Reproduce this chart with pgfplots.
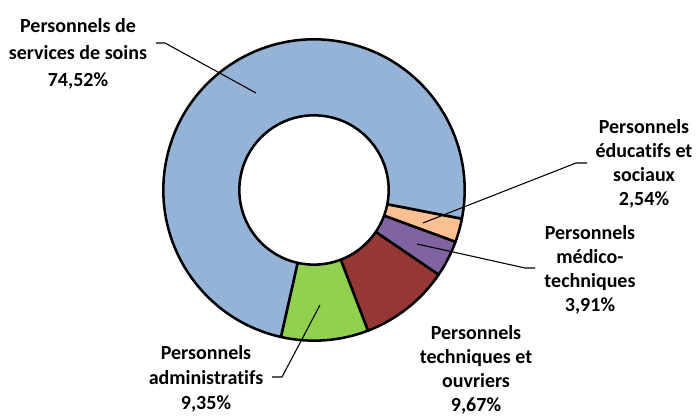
\documentclass[border=0pt]{standalone}
\usepackage{pgfplots}
\usepackage{pgfplotstable}
\pgfplotsset{compat=1.18}
\usepackage{fontspec}
\setmainfont{Carlito}[Ligatures={NoCommon,NoContextual}]
\definecolor{cBlue}{HTML}{95B3D7}
\definecolor{cPeach}{HTML}{FAC090}
\definecolor{cPurple}{HTML}{8064A2}
\definecolor{cRed}{HTML}{953735}
\definecolor{cGreen}{HTML}{92D050}
\pgfdeclareplotmark{nothing}{}
\newcommand\slicecolor[1]{\ifcase#1 cPeach\or cPurple\or cRed\or cGreen\or cBlue\fi}
\pgfplotstableread{
label pct ci
educ 2.54 0
medic 3.91 1
tech 9.67 2
admin 9.35 3
soins 74.52 4
}\donut
\pgfplotstablecreatecol[create col/expr accum={\pgfmathaccuma + \thisrow{pct}}{0}]{cum}\donut
\begin{document}
\begin{tikzpicture}
\begin{axis}[
  x=0.75pt, y=0.75pt, y dir=reverse,
  xmin=0, xmax=697, ymin=0, ymax=416,
  enlargelimits=false, scale only axis, hide axis, clip=false,
]
\addplot[scatter, only marks, mark=nothing,
  point meta=\thisrow{pct},
  visualization depends on={\thisrow{cum} \as \cum},
  visualization depends on={\thisrow{pct} \as \pct},
  visualization depends on={\thisrow{ci} \as \ci},
  scatter/@pre marker code/.code={%
    \pgfmathsetmacro\ea{-11-3.6*\cum}%
    \pgfmathsetmacro\sa{\ea+3.6*\pct}%
    \pgfmathtruncatemacro\cidx{\ci}%
    \edef\slcol{\slicecolor{\cidx}}%
    \filldraw[fill=\slcol, draw=black, line width=1.9pt, line join=round]
      (\sa:113pt) arc[start angle=\sa, end angle=\ea, radius=113pt]
      -- (\ea:56pt) arc[start angle=\ea, end angle=\sa, radius=56pt] -- cycle;
  },
  scatter/@post marker code/.code={},
] table[x expr=314, y expr=190] {\donut};

\coordinate (BL) at (axis cs:0,416);
\coordinate (TR) at (axis cs:697,0);
\coordinate (a1) at (axis cs:156,43); \coordinate (a2) at (axis cs:165,43); \coordinate (a3) at (axis cs:256,93);
\coordinate (b1) at (axis cs:587,163); \coordinate (b2) at (axis cs:576,163); \coordinate (b3) at (axis cs:423,223);
\coordinate (c1) at (axis cs:535,268); \coordinate (c2) at (axis cs:525,268); \coordinate (c3) at (axis cs:417,244);
\coordinate (d1) at (axis cs:272,377); \coordinate (d2) at (axis cs:282,377); \coordinate (d3) at (axis cs:320,305);

\begin{scope}[every node/.style={align=center, inner sep=0pt, font=\fontsize{15}{18}\selectfont\bfseries}]
\node[font=\fontsize{15}{20.5}\selectfont\bfseries] at (axis cs:78,54) {Personnels de\\services de soins\\74,52\%};
\node at (axis cs:644,164) {Personnels\\éducatifs et\\sociaux\\2,54\%};
\node at (axis cs:590,270) {Personnels\\médico-\\techniques\\3,91\%};
\node at (axis cs:476,370) {Personnels\\techniques et\\ouvriers\\9,67\%};
\node[font=\fontsize{15}{19}\selectfont\bfseries] at (axis cs:206,379) {Personnels\\administratifs\\9,35\%};
\end{scope}
\end{axis}
\begin{scope}[line width=0.8pt]
\draw (a1) -- (a2) -- (a3);
\draw (b1) -- (b2) -- (b3);
\draw (c1) -- (c2) -- (c3);
\draw (d1) -- (d2) -- (d3);
\end{scope}
\pgfresetboundingbox
\path (BL) rectangle (TR);
\end{tikzpicture}
\end{document}
